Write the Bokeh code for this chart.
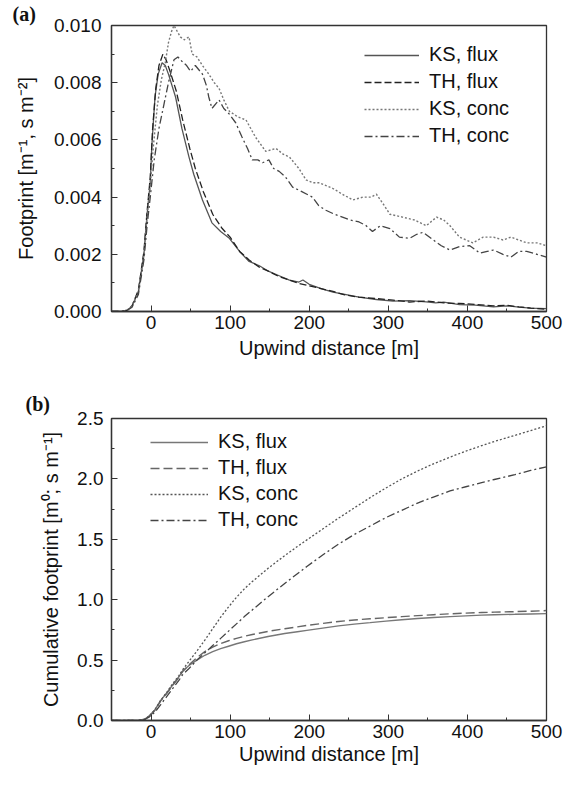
from bokeh.plotting import figure
from bokeh.layouts import column
from bokeh.models import Legend, LegendItem, FixedTicker, PrintfTickFormatter, Title
from bokeh.embed import file_html
from bokeh.resources import INLINE

# ---------------- Panel (a): footprint ----------------
ks_flux_x = [-50, -37, -30, -24, -16, -9, -5, -1, 1, 5, 9, 14, 18, 22, 31, 39, 48, 54, 65, 77, 88, 99,
             112, 124, 137, 149, 162, 175, 187, 192, 200, 215, 230, 245, 263, 285, 306, 327, 348, 360,
             370, 390, 410, 433, 450, 465, 480, 500]
ks_flux_y = [0, 0, 0.00005, 0.00018, 0.0007, 0.002, 0.0034, 0.0045, 0.0058, 0.0075, 0.0083, 0.0087,
             0.0086, 0.0083, 0.0075, 0.0064, 0.0054, 0.0048, 0.0039, 0.0031, 0.0028, 0.00256,
             0.0021, 0.00175, 0.0016, 0.0014, 0.00125, 0.0011, 0.00103, 0.0011, 0.00095, 0.0008,
             0.00068, 0.0006, 0.0005, 0.00042, 0.00036, 0.00038, 0.00034, 0.0003, 0.00033, 0.00024,
             0.00022, 0.00016, 0.0002, 0.00015, 0.00012, 0.0001]

th_flux_x = [-50, -37, -30, -24, -16, -9, -5, -1, 2, 6, 10, 15, 19, 24, 32, 40, 49, 56, 66, 78, 90, 100,
             112, 124, 137, 149, 162, 175, 187, 200, 215, 230, 245, 263, 285, 306, 327, 348, 370, 390,
             410, 433, 450, 465, 480, 500]
th_flux_y = [0, 0, 0.00005, 0.0002, 0.00075, 0.0021, 0.0035, 0.0047, 0.0064, 0.0078, 0.0086, 0.0090,
             0.0088, 0.0084, 0.0077, 0.0067, 0.0057, 0.0050, 0.0042, 0.0034, 0.0029, 0.0026, 0.0021,
             0.0018, 0.00155, 0.0014, 0.00122, 0.0011, 0.00098, 0.0009, 0.0008, 0.0007, 0.00058,
             0.0005, 0.00045, 0.0004, 0.00033, 0.00037, 0.0003, 0.00028, 0.00025, 0.0002, 0.00022,
             0.00016, 0.00012, 0.00008]

ks_conc_x = [-50, -37, -30, -24, -16, -9, -5, -1, 3, 8, 13, 18, 22, 26, 29, 33, 37, 42, 48, 52, 58, 65,
             73, 80, 86, 92, 99, 110, 120, 132, 145, 158, 167, 175, 187, 196, 205, 213, 230, 242, 255,
             268, 278, 285, 295, 302, 318, 333, 348, 361, 370, 378, 390, 407, 420, 433, 445, 455, 465,
             475, 488, 500]
ks_conc_y = [0, 0, 0.00005, 0.0002, 0.0007, 0.002, 0.0033, 0.0044, 0.0058, 0.0072, 0.0081, 0.0087,
             0.0094, 0.0098, 0.0100, 0.0098, 0.0096, 0.0095, 0.0096, 0.0090, 0.0089, 0.0086, 0.0083,
             0.0080, 0.0078, 0.0074, 0.0070, 0.0068, 0.0067, 0.0061, 0.0056, 0.0057, 0.0055, 0.0054,
             0.0050, 0.0046, 0.0045, 0.0045, 0.0043, 0.0041, 0.0039, 0.0040, 0.0040, 0.0041, 0.0037,
             0.0034, 0.0033, 0.0032, 0.0030, 0.0033, 0.0032, 0.0030, 0.0026, 0.0024, 0.0026, 0.0026,
             0.0025, 0.0026, 0.0025, 0.0024, 0.0024, 0.0023]

th_conc_x = [-50, -37, -30, -24, -16, -9, -5, -1, 4, 10, 16, 22, 29, 34, 39, 45, 50, 56, 65, 70, 73, 77,
             86, 92, 99, 107, 115, 122, 128, 135, 141, 149, 155, 162, 170, 179, 190, 204, 212, 221, 232,
             242, 252, 263, 272, 280, 290, 302, 314, 327, 336, 344, 357, 367, 378, 390, 403, 416, 425,
             433, 445, 455, 465, 475, 488, 500]
th_conc_y = [0, 0, 0.00004, 0.00015, 0.0006, 0.0018, 0.003, 0.0040, 0.0053, 0.0064, 0.0072, 0.0080,
             0.0088, 0.0089, 0.00875, 0.0086, 0.0084, 0.0086, 0.0083, 0.0079, 0.0075, 0.0071, 0.0074,
             0.0071, 0.0069, 0.0066, 0.0061, 0.0057, 0.0053, 0.0053, 0.0052, 0.0053, 0.0050, 0.0049,
             0.0047, 0.00435, 0.0042, 0.0040, 0.0037, 0.00354, 0.0034, 0.0033, 0.0032, 0.00313, 0.0030,
             0.0028, 0.0030, 0.0029, 0.0026, 0.00256, 0.0027, 0.00277, 0.0025, 0.0023, 0.00215,
             0.00227, 0.0023, 0.00204, 0.0021, 0.00215, 0.0020, 0.0019, 0.0021, 0.0021, 0.0020, 0.0019]

# ---------------- Panel (b): cumulative footprint ----------------
cum_x = [-50, -30, -16, -8, -2, 5, 12, 20, 28, 35, 40, 48, 58, 68, 78, 88, 98, 108, 118, 128, 148, 169,
         185, 197, 217, 237, 257, 277, 297, 317, 337, 357, 378, 398, 418, 434, 460, 480, 500]
cum_ks_flux = [0, 0, 0, 0.01, 0.04, 0.09, 0.165, 0.23, 0.30, 0.36, 0.41, 0.455, 0.50, 0.54, 0.57, 0.595,
               0.615, 0.635, 0.652, 0.667, 0.695, 0.72, 0.735, 0.746, 0.765, 0.783, 0.798, 0.81, 0.823,
               0.834, 0.844, 0.853, 0.86, 0.866, 0.872, 0.876, 0.879, 0.882, 0.885]
cum_th_flux = [0, 0, 0, 0.01, 0.035, 0.085, 0.16, 0.225, 0.295, 0.355, 0.405, 0.46, 0.52, 0.57, 0.607,
               0.637, 0.66, 0.68, 0.697, 0.712, 0.738, 0.76, 0.775, 0.787, 0.804, 0.82, 0.832, 0.842,
               0.851, 0.86, 0.868, 0.876, 0.883, 0.889, 0.894, 0.897, 0.901, 0.905, 0.91]
cum_ks_conc = [0, 0, 0, 0.01, 0.04, 0.09, 0.165, 0.235, 0.31, 0.37, 0.42, 0.49, 0.575, 0.665, 0.76,
               0.855, 0.94, 1.02, 1.09, 1.15, 1.26, 1.365, 1.44, 1.495, 1.585, 1.675, 1.76, 1.845,
               1.925, 2.0, 2.065, 2.125, 2.18, 2.23, 2.275, 2.31, 2.36, 2.40, 2.44]
cum_th_conc = [0, 0, 0, 0.008, 0.03, 0.07, 0.13, 0.2, 0.27, 0.33, 0.38, 0.43, 0.5, 0.56, 0.62, 0.68,
               0.74, 0.80, 0.86, 0.915, 1.025, 1.135, 1.215, 1.275, 1.37, 1.46, 1.54, 1.61, 1.68,
               1.74, 1.80, 1.85, 1.90, 1.935, 1.97, 1.995, 2.035, 2.07, 2.10]

x_ticks = [0, 100, 200, 300, 400, 500]
x_minor = [-50, 50, 150, 250, 350, 450]
ya_ticks = [0.0, 0.002, 0.004, 0.006, 0.008, 0.010]
ya_minor = [0.001, 0.003, 0.005, 0.007, 0.009]
yb_ticks = [0.0, 0.5, 1.0, 1.5, 2.0, 2.5]
yb_minor = [0.25, 0.75, 1.25, 1.75, 2.25]
series_names = ["KS, flux", "TH, flux", "KS, conc", "TH, conc"]

SANS = "Liberation Sans"
TXT = "#111111"
AX = "#333333"


def style(p, yt, ymin, fmt):
    p.xaxis.ticker = FixedTicker(ticks=x_ticks, minor_ticks=x_minor)
    p.yaxis.ticker = FixedTicker(ticks=yt, minor_ticks=ymin)
    p.yaxis.formatter = PrintfTickFormatter(format=fmt)
    p.xgrid.visible = False
    p.ygrid.visible = False
    p.outline_line_color = AX
    p.outline_line_width = 1.3
    p.background_fill_color = "white"
    p.border_fill_color = "white"
    for ax in (p.xaxis[0], p.yaxis[0]):
        ax.axis_line_color = AX
        ax.axis_line_width = 1.3
        ax.major_tick_in = 6
        ax.major_tick_out = 0
        ax.minor_tick_in = 3
        ax.minor_tick_out = 0
        ax.major_tick_line_color = AX
        ax.minor_tick_line_color = AX
        ax.major_label_text_font = SANS
        ax.major_label_text_font_size = "19px"
        ax.major_label_text_color = TXT
        ax.axis_label_text_font = SANS
        ax.axis_label_text_font_size = "20px"
        ax.axis_label_text_font_style = "normal"
        ax.axis_label_text_color = TXT


def panel_title(text, offset, standoff):
    return Title(text=text, align="left", offset=offset, standoff=standoff,
                 text_font="Liberation Serif", text_font_style="bold",
                 text_font_size="20px", text_color=TXT)


styles = [
    dict(line_color="#555555", line_dash="solid", line_width=1.3),
    dict(line_color="#222222", line_dash="7 3", line_width=1.3),
    dict(line_color="#777777", line_dash="2 2", line_width=1.4),
    dict(line_color="#444444", line_dash="8 3 2 3", line_width=1.3),
]

# ---------- figure (a) ----------
pa = figure(width=571, height=367, x_range=(-50, 500), y_range=(0, 0.010),
            output_backend="svg", toolbar_location=None,
            title=panel_title("(a)", -99, 1),
            min_border_left=111, min_border_right=25, min_border_top=23, min_border_bottom=56)
style(pa, ya_ticks, ya_minor, "%.3f")
pa.xaxis.axis_label = "Upwind distance [m]"
pa.yaxis.axis_label = "Footprint [m⁻¹, s m⁻²]"
pa.xaxis.major_label_standoff = 4
pa.xaxis.axis_label_standoff = 5
pa.yaxis.major_label_standoff = 10
pa.yaxis.axis_label_standoff = 14

ra = []
for (xs, ys), st in zip([(ks_flux_x, ks_flux_y), (th_flux_x, th_flux_y),
                         (ks_conc_x, ks_conc_y), (th_conc_x, th_conc_y)], styles):
    ra.append(pa.line(xs, ys, **st))

leg_a = Legend(items=[LegendItem(label=n, renderers=[r]) for n, r in zip(series_names, ra)],
               location=(253, 164), border_line_color=None, background_fill_alpha=0,
               padding=0, margin=0, spacing=4, glyph_width=55, glyph_height=20, label_height=20,
               label_standoff=10, label_text_font=SANS, label_text_font_size="20px",
               label_text_color=TXT)
pa.add_layout(leg_a)

# ---------- figure (b) ----------
pb = figure(width=571, height=404, x_range=(-50, 500), y_range=(0, 2.5),
            output_backend="svg", toolbar_location=None,
            title=panel_title("(b)", -86, 8),
            min_border_left=100, min_border_right=14, min_border_top=51, min_border_bottom=51)
style(pb, yb_ticks, yb_minor, "%.1f")
pb.xaxis.axis_label = "Upwind distance [m]"
pb.yaxis.axis_label = "Cumulative footprint [m⁰; s m⁻¹]"
pb.xaxis.major_label_standoff = 4
pb.xaxis.axis_label_standoff = 2
pb.yaxis.major_label_standoff = 8
pb.yaxis.axis_label_standoff = 12

styles_b = [
    dict(line_color="#777777", line_dash="solid", line_width=1.4),
    dict(line_color="#666666", line_dash="9 4", line_width=1.4),
    dict(line_color="#555555", line_dash="2 2", line_width=1.3),
    dict(line_color="#444444", line_dash="8 3 2 3", line_width=1.3),
]
rb = []
for ys, st in zip([cum_ks_flux, cum_th_flux, cum_ks_conc, cum_th_conc], styles_b):
    rb.append(pb.line(cum_x, ys, **st))

leg_b = Legend(items=[LegendItem(label=n, renderers=[r]) for n, r in zip(series_names, rb)],
               location=(39, 189), border_line_color=None, background_fill_alpha=0,
               padding=0, margin=0, spacing=3, glyph_width=58, glyph_height=20, label_height=20,
               label_standoff=10, label_text_font=SANS, label_text_font_size="20px",
               label_text_color=TXT)
pb.add_layout(leg_b)

layout = column(pa, pb, spacing=0)
open("out.html", "w").write(file_html(layout, INLINE))
